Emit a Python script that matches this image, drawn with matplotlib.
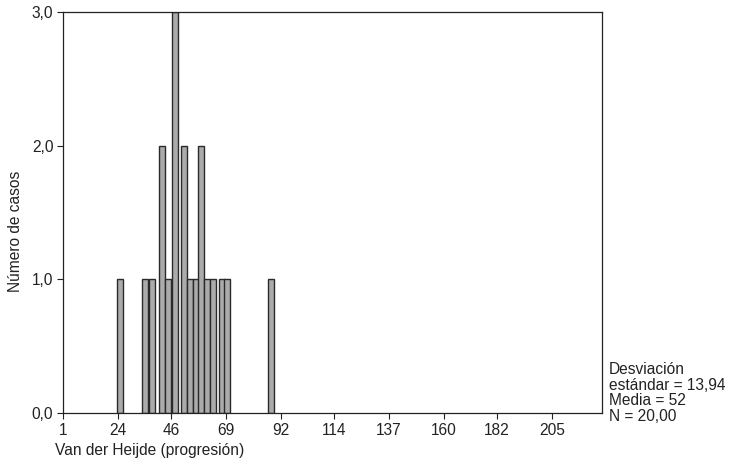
import matplotlib
matplotlib.use("Agg")
import matplotlib.pyplot as plt

# histogram bins (centres) and counts
bin_centres = [24.9, 35.3, 38.2, 42.2, 44.9, 47.8, 51.6, 54.2, 56.5, 58.8,
               61.2, 63.5, 67.3, 69.6, 87.9]
counts = [1, 1, 1, 2, 1, 3, 2, 1, 1, 2, 1, 1, 1, 1, 1]

x_ticks = [1, 24, 46, 69, 92, 114, 137, 160, 182, 205]
y_ticks = [0, 1, 2, 3]
y_tick_labels = ["0,0", "1,0", "2,0", "3,0"]

stats_text = "Desviación\nestándar = 13,94\nMedia = 52\nN = 20,00"

plt.rcParams["font.family"] = ["Liberation Sans", "DejaVu Sans"]
fs = 11.2

fig = plt.figure(figsize=(7.3, 4.59), dpi=100)
ax = fig.add_axes([0.0863, 0.1002, 0.7384, 0.8737])

ax.bar(bin_centres, counts, width=2.5, color="#ababab",
       edgecolor="#2a2a2a", linewidth=1.0)

ax.set_xlim(1, 226)
ax.set_ylim(0, 3)
ax.set_xticks(x_ticks)
ax.set_yticks(y_ticks)
ax.set_yticklabels(y_tick_labels)
ax.tick_params(direction="out", length=4, width=0.8, colors="#222222",
               labelsize=fs, pad=3)
for sp in ax.spines.values():
    sp.set_linewidth(0.9)
    sp.set_color("#222222")

fig.text(55 / 730, 1 - 450 / 459, "Van der Heijde (progresión)",
         ha="left", va="center", fontsize=fs, color="#222222")
fig.text(16 / 730, 1 - 231 / 459, "Número de casos", rotation=90,
         ha="center", va="center", fontsize=fs, color="#222222")
fig.text(609 / 730, 1 - 362 / 459, stats_text, ha="left", va="top",
         fontsize=fs, linespacing=1.05, color="#222222")

fig.savefig("out.png", dpi=100)
